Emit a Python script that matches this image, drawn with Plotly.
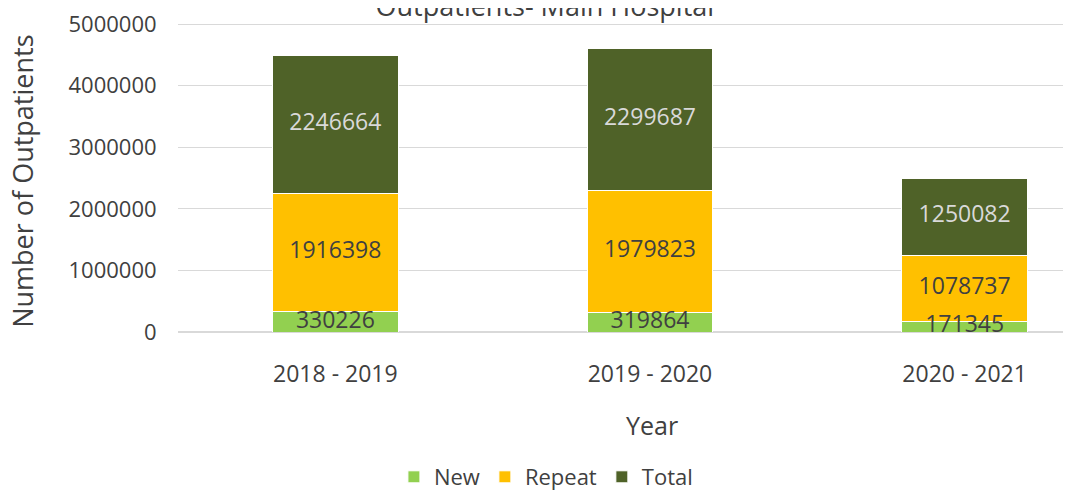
import plotly.graph_objects as go

years = ['2018 - 2019', '2019 - 2020', '2020 - 2021']
new = [330226, 319864, 171345]
repeat = [1916398, 1979823, 1078737]
total = [2246664, 2299687, 1250082]

font = 'Open Sans'
grey = '#404040'

fig = go.Figure()
fig.add_trace(go.Bar(x=years, y=new, name='New', marker=dict(color='#92D050', line=dict(color='white', width=1))))
fig.add_trace(go.Bar(x=years, y=repeat, name='Repeat', marker=dict(color='#FFC000', line=dict(color='white', width=1))))
fig.add_trace(go.Bar(x=years, y=total, name='Total', marker=dict(color='#4F6228', line=dict(color='white', width=1))))

# value labels in the middle of each segment
base = [0, 0, 0]
for vals, col in [(new, grey), (repeat, grey), (total, '#D9D9D9')]:
    mid = [b + v / 2 for b, v in zip(base, vals)]
    fig.add_trace(go.Scatter(x=years, y=mid, mode='text', text=[str(v) for v in vals],
                             textfont=dict(family=font, size=23, color=col),
                             showlegend=False, hoverinfo='skip', cliponaxis=False))
    base = [b + v for b, v in zip(base, vals)]

# page has an 8px body margin, so everything is shifted up/left by 8px
fig.update_layout(
    width=1063, height=490,
    template='plotly_white',
    barmode='stack', bargap=0.6,
    margin=dict(l=170, r=0, t=13, b=166),
    font=dict(family=font, size=22, color=grey),
    title=dict(text='Outpatients- Main Hospital', x=0.505, xanchor='center', y=0.984, yanchor='bottom',
               font=dict(family=font, size=27, color=grey)),
    legend=dict(orientation='h', x=0.412, xanchor='center', yref='container', y=0, yanchor='bottom',
                font=dict(family=font, size=22, color=grey), traceorder='normal',
                itemwidth=30, tracegroupgap=0),
    plot_bgcolor='white', paper_bgcolor='white',
    annotations=[
        dict(text='Number of Outpatients', xref='paper', yref='paper', x=-0.174, y=0.485, textangle=-90,
             showarrow=False, font=dict(family=font, size=27, color=grey), xanchor='center', yanchor='middle'),
        dict(text='Year', xref='paper', yref='paper', x=0.531, y=-0.299, showarrow=False,
             font=dict(family=font, size=25, color=grey), xanchor='center', yanchor='middle'),
    ],
)
fig.update_xaxes(range=[-0.5, 2.338], showgrid=False, showline=False, zeroline=False,
                 ticks='outside', ticklen=21, tickcolor='rgba(0,0,0,0)',
                 tickfont=dict(family=font, size=23, color=grey))
fig.update_yaxes(range=[0, 5050000], tickvals=[0, 1000000, 2000000, 3000000, 4000000, 5000000],
                 tickformat='d', showgrid=True, gridcolor='#D9D9D9', ticklabeloverflow='allow',
                 gridwidth=1, zeroline=True, zerolinecolor='#D9D9D9', showline=False,
                 ticks='outside', ticklen=16, tickcolor='rgba(0,0,0,0)',
                 tickfont=dict(family=font, size=22, color=grey))
fig.write_html('out.html')
